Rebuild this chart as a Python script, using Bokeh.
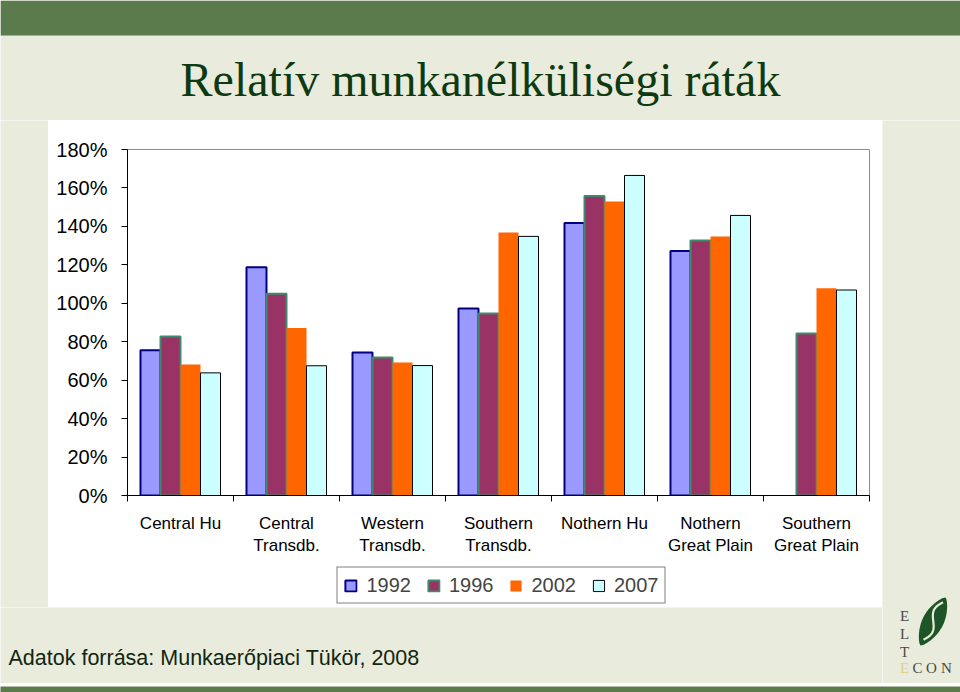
import numpy as np
from bokeh.plotting import figure
from bokeh.layouts import column, row
from bokeh.models import (Range1d, FixedTicker, NumeralTickFormatter, Legend, LegendItem)
from bokeh.core.properties import value
from bokeh.embed import file_html
from bokeh.resources import INLINE

# ---------------- data ----------------
categories = ["Central Hu", "Central\nTransdb.", "Western\nTransdb.", "Southern\nTransdb.",
              "Nothern Hu", "Nothern\nGreat Plain", "Southern\nGreat Plain"]
years = ["1992", "1996", "2002", "2007"]
rate_1992 = [0.756, 1.188, 0.744, 0.973, 1.418, 1.272, None]
rate_1996 = [0.827, 1.049, 0.718, 0.947, 1.558, 1.327, 0.843]
rate_2002 = [0.681, 0.872, 0.692, 1.368, 1.529, 1.348, 1.078]
rate_2007 = [0.638, 0.675, 0.676, 1.348, 1.665, 1.457, 1.069]
y_ticks = [0.0, 0.2, 0.4, 0.6, 0.8, 1.0, 1.2, 1.4, 1.6, 1.8]

title_text = "Relatív munkanélküliségi ráták"
source_text = "Adatok forrása: Munkaerőpiaci Tükör, 2008"

# ---------------- page geometry (pixels) ----------------
W, H = 960, 692
CHART_L, CHART_R, CHART_T, CHART_B = 48, 882, 120, 607   # white chart area
FL, FR, FT, FB = 127, 869, 149, 495                      # plot frame
LEG_T = 563                                              # top of legend strip
LEG_L, LEG_R = 316, 686                                  # legend strip span (centred on legend)
BAR_T = 683                                              # bottom green bar
SLIDE_BG = "#E9EBDD"
GREEN_BAR = "#5B7B4D"
TEXT_GREEN = "#0E3A10"


def deco_fig(x0, y0, w, h, bg=SLIDE_BG):
    f = figure(width=w, height=h, output_backend="svg", toolbar_location=None,
               x_range=Range1d(x0, x0 + w), y_range=Range1d(y0 + h, y0),
               x_axis_location=None, y_axis_location=None,
               min_border=0, background_fill_color=bg,
               border_fill_color=bg, outline_line_color=None)
    f.grid.visible = False
    return f


def draw_logo(f):
    for ch, X, Y, col in [("E", 904, 615, "#4A4A40"), ("L", 904, 633, "#4A4A40"),
                          ("T", 904, 651, "#4A4A40"), ("E", 904, 667, "#E2CF8E"),
                          ("C", 917, 667, "#4A4A40"), ("O", 931, 667, "#4A4A40"),
                          ("N", 946, 667, "#4A4A40")]:
        f.text(x=[X], y=[Y], text=[ch], text_font=value("Liberation Serif"),
               text_font_size=value("15px"), text_color=col, text_align="center",
               text_baseline="alphabetic")
    B = np.array([920.0, 645.0])
    T = np.array([945.0, 597.0])
    ax = T - B
    u = ax / np.hypot(*ax)
    n = np.array([-u[1], u[0]])
    t = np.linspace(0, 1, 40)
    w = 10.5 * np.sin(np.pi * t) ** 0.7
    left = B + np.outer(t, ax) + np.outer(w, n)
    right = B + np.outer(t, ax) - np.outer(w, n)
    leaf = np.vstack([left, right[::-1]])
    f.patch(leaf[:, 0], leaf[:, 1], fill_color="#1E5527", line_color=None)
    tv = np.linspace(0.12, 0.9, 30)
    s_off = 4.5 * np.sin(2 * np.pi * (tv - 0.12) / 0.78)
    mid = B + np.outer(tv, ax) + np.outer(s_off, n)
    f.line(mid[:, 0], mid[:, 1], line_color=SLIDE_BG, line_width=2.2)


# top band: green bar + title
top = deco_fig(0, 0, W, CHART_T)
top.quad(left=0, right=W, top=0, bottom=35, fill_color=GREEN_BAR, line_color=None)
top.text(x=[480], y=[79], text=[title_text], text_font=value("Liberation Serif"),
         text_font_size=value("48px"), text_color=TEXT_GREEN, text_align="center",
         text_baseline="alphabetic")

# left strip, right strip with logo, footer, bottom bar
left_strip = deco_fig(0, CHART_T, CHART_L, CHART_B - CHART_T)
right_strip = deco_fig(CHART_R, CHART_T, W - CHART_R, BAR_T - CHART_T)
draw_logo(right_strip)

footer = deco_fig(0, CHART_B, CHART_R, BAR_T - CHART_B)
footer.text(x=[8], y=[657], text=[source_text], text_font=value("Liberation Sans"),
            text_font_size=value("21.5px"), text_color="#10260F", text_align="left",
            text_baseline="alphabetic")

bottom_bar = deco_fig(0, BAR_T, W, H - BAR_T, bg=GREEN_BAR)

# ---------------- chart ----------------
XMAX = len(categories)
p = figure(width=CHART_R - CHART_L, height=LEG_T - CHART_T, output_backend="svg",
           toolbar_location=None,
           x_range=Range1d(0, XMAX), y_range=Range1d(0, 1.8),
           min_border_left=FL - CHART_L, min_border_right=CHART_R - FR,
           min_border_top=FT - CHART_T, min_border_bottom=LEG_T - FB,
           background_fill_color="white", border_fill_color="white",
           outline_line_color="#8C8C8C", outline_line_width=1)
p.grid.visible = False

styles = [dict(fill_color="#9999FF", line_color="#000080", line_width=2),
          dict(fill_color="#993366", line_color="#3F8A6C", line_width=2),
          dict(fill_color="#FF6600", line_color=None),
          dict(fill_color="#CCFFFF", line_color="#000000", line_width=1)]
series = [rate_1992, rate_1996, rate_2002, rate_2007]
bar_w = 0.755 / len(years)
for k, (vals, st) in enumerate(zip(series, styles)):
    xs = [i + 0.5 + (k - 1.5) * bar_w for i, v in enumerate(vals) if v is not None]
    tops = [v for v in vals if v is not None]
    p.vbar(x=xs, top=tops, bottom=0, width=bar_w, **st)

xa = p.xaxis[0]
xa.ticker = FixedTicker(ticks=[i + 0.5 for i in range(XMAX)], minor_ticks=list(range(XMAX + 1)))
xa.major_label_overrides = {i + 0.5: c for i, c in enumerate(categories)}
xa.major_tick_out = 0
xa.major_tick_in = 0
xa.minor_tick_out = 6
xa.minor_tick_in = 0
xa.minor_tick_line_color = "black"
xa.axis_line_color = "black"
xa.major_label_text_font = "Liberation Sans"
xa.major_label_text_font_size = "17px"
xa.major_label_text_color = "black"
xa.major_label_standoff = 12

ya = p.yaxis[0]
ya.ticker = FixedTicker(ticks=y_ticks)
ya.formatter = NumeralTickFormatter(format="0%")
ya.major_tick_out = 6
ya.major_tick_in = 0
ya.minor_tick_line_color = None
ya.axis_line_color = "black"
ya.major_tick_line_color = "black"
ya.major_label_text_font = "Liberation Sans"
ya.major_label_text_font_size = "20px"
ya.major_label_text_color = "black"
ya.major_label_standoff = 14

# ---------------- legend strip (part of the white chart area) ----------------
leg_h = CHART_B - LEG_T
fill_l = deco_fig(CHART_L, LEG_T, LEG_L - CHART_L, leg_h, bg="white")
fill_r = deco_fig(LEG_R, LEG_T, CHART_R - LEG_R, leg_h, bg="white")
leg_fig = deco_fig(LEG_L, LEG_T, LEG_R - LEG_L, leg_h, bg="white")
# one tiny swatch point each, hidden beneath the opaque legend box, so that the
# legend swatches are drawn with the series styles
cx = (LEG_L + LEG_R) / 2
cy = LEG_T + leg_h / 2
leg_renderers = [leg_fig.vbar(x=[cx], top=[cy - 1], bottom=cy + 1, width=2, **st)
                 for st in styles]
legend = Legend(items=[LegendItem(label=y, renderers=[r]) for y, r in zip(years, leg_renderers)],
                orientation="horizontal", location="center",
                border_line_color="black", border_line_width=1,
                background_fill_color="white", background_fill_alpha=1,
                label_text_font="Liberation Sans", label_text_font_size="20px",
                glyph_width=14, glyph_height=14, label_standoff=9, spacing=15,
                padding=6, margin=0)
leg_fig.add_layout(legend)

chart = column(p, row(fill_l, leg_fig, fill_r, spacing=0), spacing=0)
middle = row(column(row(left_strip, chart, spacing=0), footer, spacing=0), right_strip, spacing=0)
layout = column(top, middle, bottom_bar, spacing=0)
open("out.html", "w").write(file_html(layout, INLINE))
